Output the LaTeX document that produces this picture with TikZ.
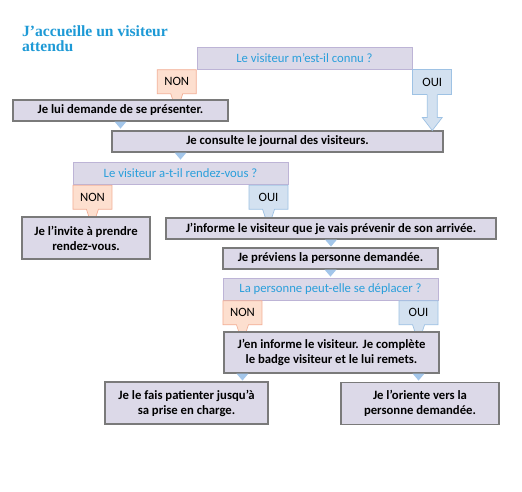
\documentclass[tikz,border=0pt]{standalone}
\usepackage{fontspec}
\setmainfont{Carlito}
\newfontfamily\titlefont{Liberation Serif}
\usepackage{tikz}
\usetikzlibrary{shapes.callouts, calc, positioning}
\definecolor{boxfill}{HTML}{DCD9E8}
\definecolor{boxline}{HTML}{7A7A7A}
\definecolor{askline}{HTML}{BDB4D6}
\definecolor{asktext}{HTML}{2A9FDB}
\definecolor{nonfill}{HTML}{FDDFCF}
\definecolor{nonline}{HTML}{F3AF96}
\definecolor{ouifill}{HTML}{D3E1F0}
\definecolor{ouiline}{HTML}{9EC2E4}
\definecolor{notchfill}{HTML}{A3C6EA}
\definecolor{titleblue}{HTML}{1E9AD6}
\newcommand{\boxfont}{\fontsize{12.7}{15}\selectfont}
% small down-pointing notch under a box
\newcommand{\notch}[1]{\fill[notchfill] ($#1+(-6,0)$) -- ($#1+(6,0)$) -- ($#1+(0,7)$) -- cycle;}

\begin{document}
\begin{tikzpicture}[x=1pt, y=-1pt,
    act/.style={draw=boxline, line width=1.1pt, fill=boxfill, font=\boxfont\bfseries, align=center, inner sep=0pt},
    ask/.style={draw=askline, line width=0.8pt, fill=boxfill, text=asktext, font=\boxfont, minimum width=215pt, minimum height=22pt, inner sep=0pt},
    tagbox/.style={line width=0.7pt, font=\boxfont, minimum width=39pt, minimum height=24pt, inner sep=0pt},
    non/.style={tagbox, rectangle callout, draw=nonline, fill=nonfill, callout relative pointer={(0pt,-18pt)}, callout pointer width=12pt},
    oui/.style={tagbox, rectangle callout, draw=ouiline, fill=ouifill, callout relative pointer={(0pt,-18pt)}, callout pointer width=12pt},
    ouiplain/.style={tagbox, draw=ouiline, fill=ouifill, minimum height=25pt},
]
    % --- PAGE ---
    \path[fill=white, use as bounding box] (0,0) rectangle (522,492);

    % --- TITLE ---
    \node[font=\titlefont\bfseries\fontsize{15.6}{14.5}\selectfont, text=titleblue, align=left, anchor=north west, inner sep=0pt] (title) at (22,25.5) {J’accueille un visiteur\\attendu};

    % --- FIRST QUESTION ---
    \node[ask] (q1) at (304.5,58) {Le visiteur m’est-il connu ?};
    \node[non, anchor=north east] (non1) at (q1.south west) {NON};
    \node[ouiplain, anchor=north west] (oui1) at (q1.south east) {OUI};
    \node[act, minimum width=215pt, minimum height=21pt] (a1) at (120.5,110.5) {Je lui demande de se présenter.};
    \node[act, minimum width=331pt, minimum height=21pt] (a2) at (277.5,141.5) {Je consulte le journal des visiteurs.};

    % Big arrow from OUI
    \coordinate (tip) at (oui1.south |- a2.north);
    \fill[ouifill] ($(oui1.south)+(-5,-1)$) -- ($(tip)+(-5,-13)$) -- ($(tip)+(-10,-13)$) -- (tip)
        -- ($(tip)+(10,-13)$) -- ($(tip)+(5,-13)$) -- ($(oui1.south)+(5,-1)$) -- cycle;
    \draw[ouiline, line width=0.7pt] ($(oui1.south)+(-5,0)$) -- ($(tip)+(-5,-13)$) -- ($(tip)+(-10,-13)$) -- (tip)
        -- ($(tip)+(10,-13)$) -- ($(tip)+(5,-13)$) -- ($(oui1.south)+(5,0)$);

    % --- SECOND QUESTION ---
    \node[ask] (q2) at (180.5,173.5) {Le visiteur a-t-il rendez-vous ?};
    \node[non, anchor=north west] (non2) at (q2.south west) {NON};
    \node[oui, anchor=north east] (oui2) at (q2.south east) {OUI};
    \node[act, minimum width=128pt, minimum height=42pt] (b1) at (86,238) {Je l’invite à prendre\\rendez-vous.};
    \node[act, minimum width=330pt, minimum height=21pt] (b2) at (331,228.5) {J’informe le visiteur que je vais prévenir de son arrivée.};
    \node[act, minimum width=215pt, minimum height=21pt] (b3) at (330.5,258.5) {Je préviens la personne demandée.};

    % --- THIRD QUESTION ---
    \node[ask] (q3) at (330.5,289) {La personne peut-elle se déplacer ?};
    \node[non, anchor=north west] (non3) at (q3.south west) {NON};
    \node[oui, anchor=north east] (oui3) at (q3.south east) {OUI};
    \node[act, minimum width=215pt, minimum height=41pt] (c1) at (331.5,352.5) {J’en informe le visiteur. Je complète\\le badge visiteur et le lui remets.};
    \node[act, minimum width=163pt, minimum height=42pt] (d1) at (186.5,403) {Je le fais patienter jusqu’à\\sa prise en charge.};
    \node[act, minimum width=158pt, minimum height=42pt] (d2) at (420,403.5) {Je l’oriente vers la\\personne demandée.};

    % Notches
    \notch{(a1.south)}
    \notch{(a2.south -| q2.north)}
    \notch{(b2.south)}
    \notch{(b3.south)}
    \notch{(c1.south -| non3.south)}
    \notch{(c1.south -| oui3.south)}
\end{tikzpicture}
\end{document}
